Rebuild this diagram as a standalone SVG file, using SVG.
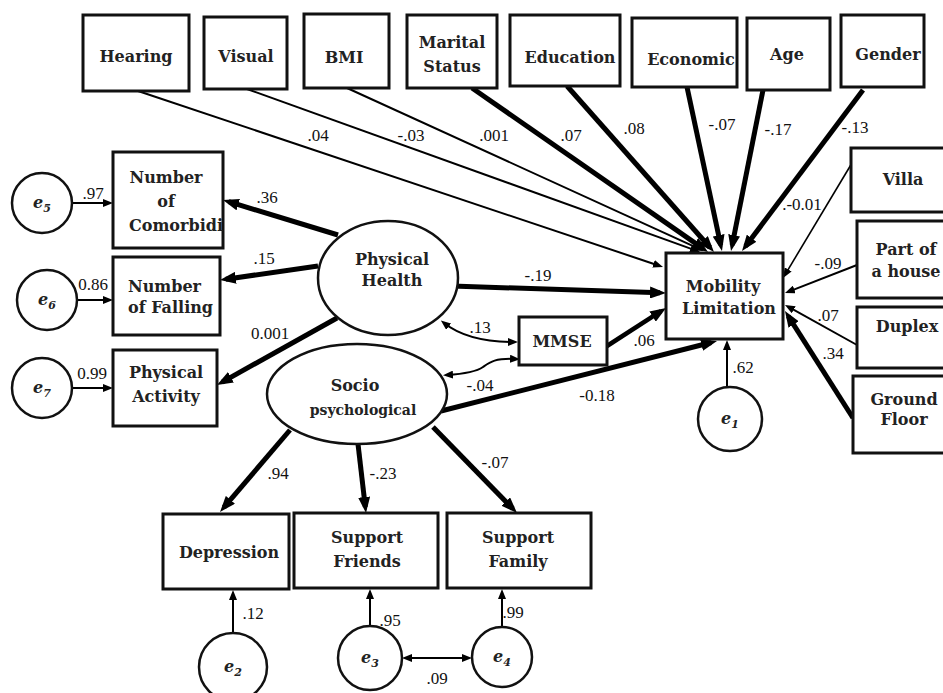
<svg xmlns="http://www.w3.org/2000/svg" width="943" height="693" viewBox="0 0 943 693">
<style>
.box{fill:#fff;stroke:#111;stroke-width:3}
.ell{fill:#fff;stroke:#111;stroke-width:2.5}
.t{font-family:"DejaVu Serif","Liberation Serif",serif;font-weight:bold;font-size:16px;fill:#222;text-anchor:middle}
.ts{font-size:14px}
.lab{font-family:'Liberation Serif',serif;font-size:17px;fill:#111;text-anchor:middle}
.e{font-family:"DejaVu Serif",serif;font-weight:bold;font-style:italic;font-size:16px;fill:#222;text-anchor:middle}
.sub{font-size:11px;font-style:italic}
.thick{stroke:#000;stroke-width:5;fill:none;marker-end:url(#ah)}
.thin{stroke:#000;stroke-width:2;fill:none;marker-end:url(#as)}
.dbl{stroke:#000;stroke-width:2;fill:none;marker-end:url(#as);marker-start:url(#as)}
</style>
<defs>
<marker id="ah" markerUnits="userSpaceOnUse" markerWidth="16" markerHeight="12" refX="10" refY="6" orient="auto-start-reverse"><path d="M0,0 L16,6 L0,12 z" fill="#000"/></marker>
<marker id="as" markerUnits="userSpaceOnUse" markerWidth="10" markerHeight="8" refX="6" refY="4" orient="auto-start-reverse"><path d="M0,0 L10,4 L0,8 z" fill="#000"/></marker>
</defs>
<rect width="943" height="693" fill="#fff"/>

<g id="connectors">
<line class="thin" x1="138" y1="91" x2="659.2" y2="265.7"/>
<line class="thin" x1="247" y1="89" x2="696.2" y2="250.6"/>
<line class="thin" x1="347" y1="88" x2="700.4" y2="249.3"/>
<line class="thick" x1="472" y1="88" x2="703.1" y2="248.6"/>
<line class="thick" x1="567" y1="86" x2="710" y2="247.5"/>
<line class="thick" x1="687" y1="87" x2="720.7" y2="245.1"/>
<line class="thick" x1="763" y1="90" x2="732.2" y2="245.1"/>
<line class="thick" x1="863" y1="90" x2="745.6" y2="246.2"/>
<line class="thin" style="stroke-width:1.6" x1="852" y1="163" x2="785.1" y2="274.6"/>
<line class="thin" x1="857" y1="265" x2="788.7" y2="291.6"/>
<line class="thin" x1="857" y1="345" x2="788.5" y2="306.9"/>
<line class="thick" x1="853" y1="418" x2="788.2" y2="316.1"/>
<line class="thick" x1="452" y1="286" x2="660" y2="292.8"/>
<line class="thick" style="stroke-width:4.5" x1="607" y1="346" x2="661" y2="311.2"/>
<line class="thick" x1="441" y1="411" x2="711.2" y2="342.5"/>
<line class="thin" x1="727" y1="386" x2="727" y2="344"/>
<line class="thick" x1="338" y1="235" x2="228.7" y2="201.7"/>
<line class="thick" x1="318" y1="266" x2="225.9" y2="279.2"/>
<line class="thick" x1="337" y1="318" x2="222.2" y2="382.1"/>
<line class="thick" x1="290" y1="430" x2="223.9" y2="507.4"/>
<line class="thick" x1="358" y1="444" x2="365.3" y2="507"/>
<line class="thick" x1="433" y1="427" x2="512.8" y2="508.7"/>
<line class="thin" x1="72" y1="203" x2="109" y2="203"/>
<line class="thin" x1="77" y1="300" x2="109" y2="300"/>
<line class="thin" x1="72" y1="388" x2="109" y2="388"/>
<line class="thin" x1="233" y1="633" x2="233" y2="594"/>
<line class="thin" x1="370" y1="626" x2="370" y2="593"/>
<line class="thin" x1="502" y1="627" x2="502" y2="593"/>
<line class="dbl" x1="406" y1="658" x2="468" y2="658"/>
<path class="dbl" d="M444,323 Q468,342 514,342"/>
<path class="dbl" d="M516,359 C495,358 490,362 483,367 C476,372 462,374 447,375"/>
</g>

<g id="labels">
<text class="lab" x="318" y="141">.04</text>
<text class="lab" x="411" y="141">-.03</text>
<text class="lab" x="494" y="141">.001</text>
<text class="lab" x="571" y="141">.07</text>
<text class="lab" x="634" y="134">.08</text>
<text class="lab" x="722" y="130">-.07</text>
<text class="lab" x="778" y="135">-.17</text>
<text class="lab" x="855" y="133">-.13</text>
<text class="lab" x="802" y="210">.-0.01</text>
<text class="lab" x="828" y="269">-.09</text>
<text class="lab" x="828" y="321">.07</text>
<text class="lab" x="833" y="359">.34</text>
<text class="lab" x="743" y="373">.62</text>
<text class="lab" x="538" y="281">-.19</text>
<text class="lab" x="480" y="333">.13</text>
<text class="lab" x="644" y="346">.06</text>
<text class="lab" x="480" y="391">-.04</text>
<text class="lab" x="597" y="401">-0.18</text>
<text class="lab" x="267" y="203">.36</text>
<text class="lab" x="264" y="264">.15</text>
<text class="lab" x="270" y="339">0.001</text>
<text class="lab" x="93" y="199">.97</text>
<text class="lab" x="93" y="290">0.86</text>
<text class="lab" x="92" y="379">0.99</text>
<text class="lab" x="278" y="479">.94</text>
<text class="lab" x="383" y="479">-.23</text>
<text class="lab" x="495" y="468">-.07</text>
<text class="lab" x="253" y="619">.12</text>
<text class="lab" x="390" y="626">.95</text>
<text class="lab" x="513" y="618">.99</text>
<text class="lab" x="437" y="684">.09</text>
</g>

<g id="hearing"><rect class="box" x="83" y="15" width="106" height="76"/><text class="t" x="136" y="62">Hearing</text></g>
<g id="visual"><rect class="box" x="204" y="17" width="83" height="72"/><text class="t" x="246" y="62">Visual</text></g>
<g id="bmi"><rect class="box" x="304" y="14" width="85" height="74"/><text class="t" x="344" y="63">BMI</text></g>
<g id="marital"><rect class="box" x="407" y="15" width="90" height="73"/><text class="t" x="452" y="48">Marital</text><text class="t" x="452" y="72">Status</text></g>
<g id="education"><rect class="box" x="510" y="15" width="110" height="71"/><text class="t" x="570" y="63">Education</text></g>
<g id="economic"><rect class="box" x="632" y="18" width="105" height="69"/><text class="t" x="691" y="65">Economic</text></g>
<g id="age"><rect class="box" x="747" y="18" width="83" height="72"/><text class="t" x="787" y="60">Age</text></g>
<g id="gender"><rect class="box" x="841" y="15" width="83" height="72"/><text class="t" x="888" y="60">Gender</text></g>

<g id="comorbid"><rect class="box" x="113" y="152" width="110" height="96"/><text class="t" x="166" y="183">Number</text><text class="t" x="166" y="207">of</text><text class="t" x="129" y="231" style="text-anchor:start">Comorbidi</text></g>
<g id="falling"><rect class="box" x="113" y="257" width="107" height="78"/><text class="t" x="128" y="292" style="text-anchor:start">Number</text><text class="t" x="128" y="313" style="text-anchor:start">of Falling</text></g>
<g id="activity"><rect class="box" x="113" y="350" width="104" height="76"/><text class="t" x="166" y="378">Physical</text><text class="t" x="166" y="402">Activity</text></g>

<g id="e5"><circle class="ell" cx="42" cy="203" r="30"/><text class="e" x="42" y="208">e<tspan class="sub" dy="4">5</tspan></text></g>
<g id="e6"><circle class="ell" cx="47" cy="300" r="30"/><text class="e" x="47" y="305">e<tspan class="sub" dy="4">6</tspan></text></g>
<g id="e7"><circle class="ell" cx="42" cy="388" r="30"/><text class="e" x="42" y="393">e<tspan class="sub" dy="4">7</tspan></text></g>

<g id="physical-health"><ellipse class="ell" cx="388" cy="278" rx="70" ry="57"/><text class="t" x="392" y="265">Physical</text><text class="t" x="392" y="286">Health</text></g>
<g id="socio"><ellipse class="ell" cx="357" cy="394" rx="90" ry="50"/><text class="t" x="355" y="391">Socio</text><text class="t ts" x="363" y="415">psychological</text></g>

<g id="mmse"><rect class="box" x="519" y="317" width="88" height="48"/><text class="t" x="562" y="347">MMSE</text></g>
<g id="mobility"><rect class="box" x="666" y="253" width="117" height="86"/><text class="t" x="723" y="292">Mobility</text><text class="t" x="729" y="314">Limitation</text></g>
<g id="e1"><circle class="ell" cx="730" cy="419" r="32"/><text class="e" x="730" y="424">e<tspan class="sub" dy="4">1</tspan></text></g>

<g id="villa"><rect class="box" x="851" y="148" width="110" height="64"/><text class="t" x="903" y="185">Villa</text></g>
<g id="part"><rect class="box" x="857" y="221" width="104" height="77"/><text class="t" x="906" y="255">Part of</text><text class="t" x="906" y="277">a house</text></g>
<g id="duplex"><rect class="box" x="857" y="307" width="104" height="61"/><text class="t" x="907" y="332">Duplex</text></g>
<g id="ground"><rect class="box" x="853" y="376" width="108" height="77"/><text class="t" x="904" y="405">Ground</text><text class="t" x="904" y="425">Floor</text></g>

<g id="depression"><rect class="box" x="163" y="514" width="126" height="75"/><text class="t" x="229" y="558">Depression</text></g>
<g id="friends"><rect class="box" x="294" y="513" width="144" height="75"/><text class="t" x="367" y="543">Support</text><text class="t" x="367" y="567">Friends</text></g>
<g id="family"><rect class="box" x="447" y="513" width="144" height="75"/><text class="t" x="518" y="543">Support</text><text class="t" x="518" y="567">Family</text></g>

<g id="e2"><circle class="ell" cx="233" cy="667" r="34"/><text class="e" x="233" y="672">e<tspan class="sub" dy="4">2</tspan></text></g>
<g id="e3"><circle class="ell" cx="370" cy="658" r="32"/><text class="e" x="370" y="663">e<tspan class="sub" dy="4">3</tspan></text></g>
<g id="e4"><circle class="ell" cx="502" cy="657" r="30"/><text class="e" x="502" y="662">e<tspan class="sub" dy="4">4</tspan></text></g>
</svg>
